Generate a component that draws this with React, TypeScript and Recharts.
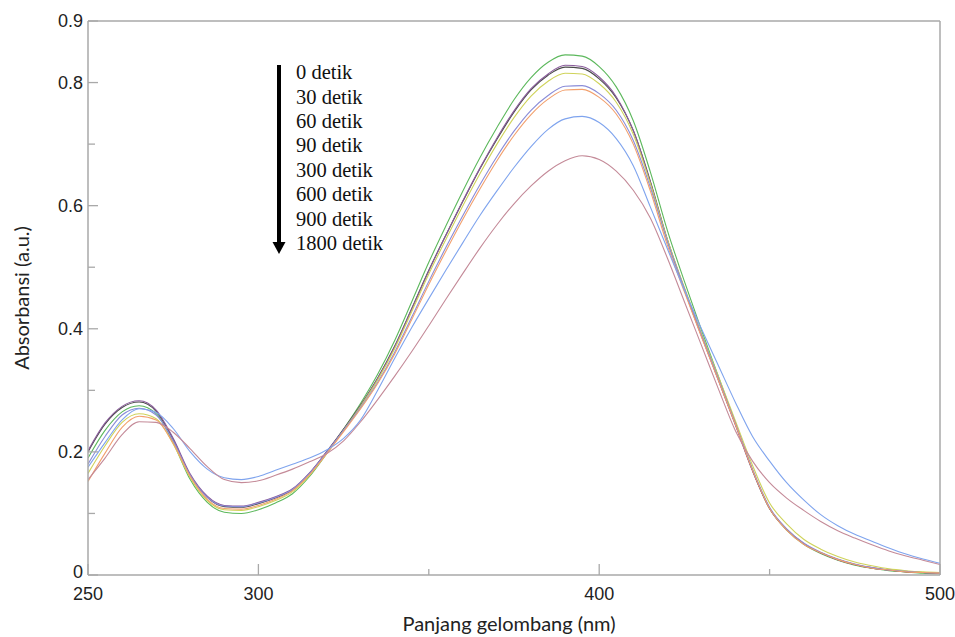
import React from 'react';
import { LineChart, Line, XAxis, YAxis, ReferenceLine, Customized } from 'recharts';

const wavelengths = [250,255,260,265,270,275,280,285,290,295,300,305,310,315,320,325,330,335,340,345,350,355,360,365,370,375,380,385,390,395,400,405,410,415,420,425,430,435,440,445,450,455,460,465,470,475,480,485,490,495,500];

const s0 = [0.190,0.235,0.265,0.275,0.262,0.215,0.155,0.118,0.102,0.100,0.106,0.117,0.132,0.160,0.197,0.237,0.279,0.326,0.381,0.444,0.508,0.567,0.624,0.678,0.727,0.772,0.808,0.833,0.845,0.843,0.826,0.793,0.738,0.655,0.560,0.477,0.398,0.322,0.246,0.170,0.108,0.073,0.050,0.035,0.024,0.016,0.011,0.007,0.005,0.003,0.002];
const s30 = [0.200,0.245,0.272,0.281,0.266,0.220,0.162,0.126,0.111,0.110,0.116,0.125,0.138,0.165,0.200,0.237,0.276,0.320,0.372,0.433,0.495,0.552,0.607,0.660,0.708,0.752,0.788,0.812,0.825,0.823,0.806,0.775,0.722,0.640,0.545,0.465,0.390,0.318,0.245,0.170,0.108,0.074,0.051,0.036,0.025,0.017,0.011,0.008,0.005,0.004,0.003];
const s60 = [0.202,0.247,0.274,0.283,0.268,0.222,0.164,0.128,0.113,0.112,0.118,0.127,0.140,0.166,0.200,0.236,0.275,0.319,0.371,0.432,0.494,0.552,0.608,0.661,0.710,0.754,0.790,0.814,0.828,0.826,0.809,0.777,0.722,0.638,0.543,0.463,0.388,0.316,0.243,0.169,0.108,0.074,0.051,0.036,0.025,0.017,0.012,0.008,0.006,0.004,0.003];
const s90 = [0.165,0.210,0.248,0.262,0.254,0.213,0.158,0.121,0.106,0.105,0.111,0.121,0.135,0.162,0.197,0.235,0.274,0.317,0.368,0.428,0.489,0.545,0.600,0.652,0.700,0.743,0.778,0.802,0.815,0.814,0.798,0.768,0.716,0.636,0.545,0.467,0.393,0.322,0.250,0.178,0.117,0.083,0.058,0.042,0.030,0.021,0.015,0.010,0.007,0.005,0.004];
const s300 = [0.180,0.225,0.260,0.271,0.260,0.218,0.162,0.126,0.112,0.111,0.117,0.126,0.139,0.165,0.199,0.235,0.272,0.313,0.362,0.419,0.477,0.532,0.584,0.634,0.680,0.721,0.755,0.779,0.794,0.795,0.782,0.755,0.706,0.630,0.542,0.465,0.391,0.319,0.246,0.172,0.110,0.075,0.052,0.037,0.026,0.018,0.012,0.008,0.006,0.004,0.003];
const s600 = [0.152,0.198,0.240,0.258,0.252,0.214,0.160,0.123,0.108,0.107,0.113,0.123,0.137,0.163,0.197,0.233,0.270,0.311,0.359,0.415,0.472,0.526,0.578,0.627,0.673,0.714,0.748,0.773,0.788,0.789,0.776,0.749,0.700,0.624,0.536,0.460,0.387,0.316,0.244,0.170,0.108,0.073,0.050,0.036,0.025,0.017,0.011,0.008,0.005,0.004,0.003];
const s900 = [0.175,0.215,0.252,0.270,0.264,0.238,0.200,0.172,0.158,0.155,0.160,0.170,0.180,0.190,0.203,0.222,0.252,0.300,0.352,0.402,0.449,0.495,0.540,0.584,0.624,0.662,0.696,0.724,0.741,0.745,0.735,0.709,0.665,0.598,0.530,0.463,0.400,0.340,0.280,0.225,0.185,0.150,0.122,0.098,0.080,0.066,0.055,0.044,0.034,0.026,0.019];
const s1800 = [0.155,0.190,0.228,0.249,0.248,0.232,0.205,0.176,0.155,0.150,0.153,0.162,0.172,0.184,0.197,0.218,0.249,0.285,0.323,0.363,0.405,0.448,0.490,0.531,0.569,0.603,0.632,0.656,0.673,0.681,0.675,0.656,0.625,0.580,0.515,0.444,0.373,0.302,0.234,0.185,0.150,0.125,0.105,0.087,0.072,0.060,0.049,0.039,0.031,0.024,0.017];

const seriesNames = ['0 detik','30 detik','60 detik','90 detik','300 detik','600 detik','900 detik','1800 detik'];
const seriesKeys = ['s0','s30','s60','s90','s300','s600','s900','s1800'];
const seriesValues = [s0, s30, s60, s90, s300, s600, s900, s1800];
const seriesColors = ['#5cb85c','#4a4a4a','#8a5c9c','#cfd35a','#8a8cd8','#f2a06e','#7fa4ee','#c48a98'];

const xTicks = [250,300,350,400,450,500];
const xLabeled = [250,300,400,500];
const yTicks = [0,0.1,0.2,0.3,0.4,0.5,0.6,0.7,0.8,0.9];
const yLabeled = [0,0.2,0.4,0.6,0.8,0.9];

const data = wavelengths.map((w, i) => {
  const row: any = { wl: w };
  seriesKeys.forEach((k, j) => { row[k] = seriesValues[j][i]; });
  return row;
});

const AXIS = '#a9a9a9';
const TICK_FONT = '"Liberation Sans", Arial, sans-serif';

const XTick = (props: any) => {
  const { x, y, payload } = props;
  const major = xLabeled.includes(payload.value);
  return (
    <g>
      <line x1={x} x2={x} y1={y} y2={y - (major ? 11 : 6)} stroke={AXIS} strokeWidth={1.3} />
      {major && (
        <text x={x} y={y + 11} dy="0.75em" textAnchor="middle" fontSize={18} fontFamily={TICK_FONT} fill="#222">
          {payload.value}
        </text>
      )}
    </g>
  );
};

const YTick = (props: any) => {
  const { x, y, payload } = props;
  const v = payload.value;
  const major = yLabeled.some((t) => Math.abs(t - v) < 1e-9);
  return (
    <g>
      <line x1={x} x2={x + (major ? 10 : 7)} y1={y} y2={y} stroke={AXIS} strokeWidth={1.3} />
      {major && (
        <text x={x - 5} y={y - (v === 0 ? 3 : 0)} dy="0.36em" textAnchor="end" fontSize={18} fontFamily={TICK_FONT} fill="#222">
          {v === 0 ? '0' : v.toFixed(1)}
        </text>
      )}
    </g>
  );
};

const LegendOverlay = () => {
  const ax = 279;
  const top = 65;
  const bottom = 254;
  return (
    <g>
      <line x1={ax} x2={ax} y1={top} y2={bottom - 10} stroke="#000" strokeWidth={4} />
      <polygon points={`${ax - 6.5},${bottom - 12} ${ax + 6.5},${bottom - 12} ${ax},${bottom}`} fill="#000" />
      {seriesNames.map((n, i) => (
        <text key={n} x={296} y={72 + i * 24.4} dy="0.35em" fontSize={20.5} fontFamily='"Liberation Serif", "Times New Roman", serif' fill="#111">
          {n}
        </text>
      ))}
    </g>
  );
};

export default function App() {
  return (
    <div style={{ position: 'absolute', left: 0, top: 0, width: 955, height: 637, background: '#fff' }}>
      <LineChart width={955} height={637} data={data} margin={{ top: 21, right: 15, bottom: 0, left: 0 }}>
        <XAxis
          dataKey="wl"
          type="number"
          domain={[250, 500]}
          ticks={xTicks}
          interval={0}
          height={62}
          tickSize={0}
          tickMargin={0}
          tickLine={false}
          tick={<XTick />}
          axisLine={{ stroke: AXIS, strokeWidth: 1.5 }}
          allowDataOverflow
          label={{ value: 'Panjang gelombang (nm)', position: 'insideBottom', offset: 6, dx: -5, fontSize: 20, fontFamily: 'Lato, "Open Sans", sans-serif', fill: '#222' }}
        />
        <YAxis
          type="number"
          domain={[0, 0.9]}
          ticks={yTicks}
          interval={0}
          width={88}
          tickSize={0}
          tickMargin={0}
          tickLine={false}
          tick={<YTick />}
          axisLine={{ stroke: AXIS, strokeWidth: 1.5 }}
          allowDataOverflow
          label={{ value: 'Absorbansi (a.u.)', angle: -90, position: 'insideLeft', offset: 22, fontSize: 20, fontFamily: 'Lato, "Open Sans", sans-serif', fill: '#222', style: { textAnchor: 'middle' } }}
        />
        <ReferenceLine y={0.9} stroke={AXIS} strokeWidth={1.5} />
        <ReferenceLine x={500} stroke={AXIS} strokeWidth={1.5} />
        {seriesKeys.map((k, i) => (
          <Line
            key={k}
            dataKey={k}
            name={seriesNames[i]}
            type="monotone"
            stroke={seriesColors[i]}
            strokeWidth={1.1}
            dot={false}
            isAnimationActive={false}
          />
        ))}
        <Customized component={LegendOverlay} />
      </LineChart>
    </div>
  );
}
